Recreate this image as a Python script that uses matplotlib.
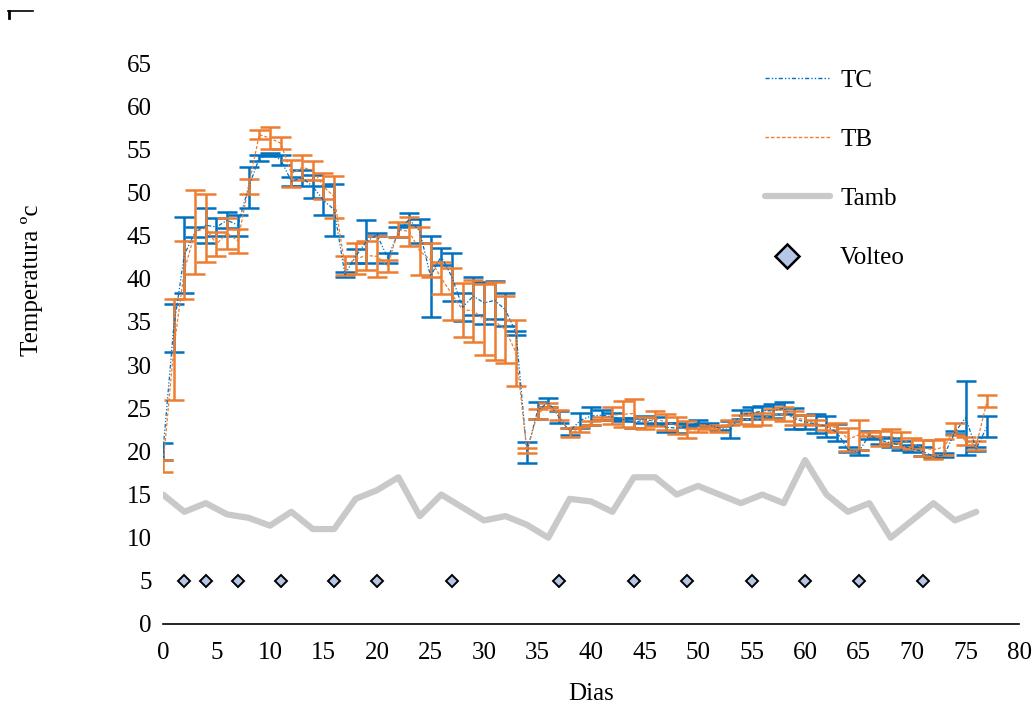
import numpy as np
import matplotlib
matplotlib.use("Agg")
import matplotlib.pyplot as plt
from matplotlib.lines import Line2D
from matplotlib.legend_handler import HandlerLine2D

plt.rcParams['font.family'] = ['Liberation Serif', 'DejaVu Serif']

# daily temperatures (mean and error) for TC and TB
days = list(range(78))
tc = [20.0, 34.3, 42.8, 45.4, 46.2, 46.0, 46.8, 46.2, 50.6, 54.0,
      54.4, 53.8, 51.3, 51.7, 50.7, 49.1, 48.0, 40.5, 42.6, 44.3,
      45.1, 42.4, 45.4, 46.9, 45.5, 40.3, 42.6, 40.2, 36.7, 38.0,
      37.2, 37.5, 36.4, 33.7, 19.9, 24.7, 25.7, 24.0, 22.3, 23.6,
      24.1, 24.2, 24.0, 23.7, 23.3, 23.7, 23.5, 22.8, 22.7, 23.0,
      23.3, 23.1, 22.7, 22.5, 24.3, 24.4, 24.7, 24.7, 25.0, 23.8,
      23.4, 23.2, 22.9, 22.2, 20.2, 19.9, 21.9, 21.3, 21.0, 20.7,
      20.3, 20.0, 19.4, 19.6, 22.2, 23.9, 20.3, 22.9]
tc_err = [1.0, 2.8, 4.4, 0.6, 2.0, 1.1, 0.9, 1.2, 2.4, 0.3,
          0.2, 0.6, 0.5, 0.9, 1.3, 1.7, 3.0, 0.3, 0.8, 2.5,
          0.2, 0.6, 0.6, 0.7, 1.4, 4.7, 1.0, 2.8, 1.6, 2.2,
          2.4, 2.2, 1.9, 0.2, 1.2, 1.0, 0.5, 0.7, 0.4, 0.9,
          1.0, 0.6, 0.4, 0.2, 0.6, 0.4, 0.5, 0.5, 0.6, 0.2,
          0.3, 0.2, 0.2, 1.0, 0.5, 0.7, 0.6, 0.8, 0.7, 1.2,
          0.8, 1.1, 1.2, 1.0, 0.3, 0.3, 0.5, 0.4, 0.5, 0.5,
          0.4, 0.5, 0.2, 0.2, 0.2, 4.3, 0.2, 1.2]
tb = [18.3, 31.8, 41.0, 45.4, 45.9, 44.0, 45.3, 44.4, 50.7, 56.7,
      56.3, 55.7, 52.2, 52.9, 52.6, 50.7, 49.5, 41.5, 42.3, 42.7,
      42.6, 41.5, 45.7, 45.5, 43.2, 42.2, 40.1, 38.2, 36.4, 36.3,
      35.3, 35.1, 34.1, 31.4, 20.1, 24.3, 25.4, 24.2, 22.2, 22.5,
      23.3, 23.8, 24.2, 24.3, 24.4, 23.3, 23.8, 23.4, 23.0, 22.5,
      22.5, 22.8, 22.6, 23.3, 23.7, 23.7, 23.8, 24.3, 24.3, 23.9,
      23.7, 23.3, 22.8, 22.8, 21.4, 21.9, 22.0, 21.5, 21.8, 21.4,
      20.9, 20.4, 20.2, 20.5, 22.6, 21.2, 20.7, 25.8]
tb_err = [0.7, 5.9, 3.4, 4.9, 3.9, 1.4, 1.8, 1.4, 0.9, 0.5,
          1.3, 0.7, 1.6, 1.4, 1.1, 1.5, 2.4, 1.1, 1.8, 1.7,
          2.4, 0.7, 0.9, 1.7, 2.8, 2.0, 1.9, 3.0, 3.1, 3.6,
          4.1, 4.5, 3.9, 3.8, 0.3, 0.6, 0.2, 0.6, 0.5, 0.3,
          0.2, 0.2, 1.0, 1.5, 1.7, 0.7, 0.9, 0.9, 1.0, 1.0,
          0.2, 0.2, 0.3, 0.3, 0.5, 0.8, 0.7, 0.6, 0.8, 0.8,
          0.5, 0.3, 0.3, 0.5, 1.3, 1.7, 0.2, 0.9, 0.8, 0.9,
          0.6, 0.9, 1.1, 0.9, 0.7, 0.5, 0.5, 0.7]

# ambient temperature, every two days
tamb_days = list(range(0, 77, 2))
tamb = [15, 13, 14, 12.7, 12.3, 11.4, 13, 11, 11, 14.5,
        15.5, 17, 12.5, 15, 13.5, 12, 12.5, 11.5, 10, 14.5,
        14.2, 13, 17, 17, 15, 16, 15, 14, 15, 14,
        19, 15, 13, 14, 10, 12, 14, 12, 13]

# turning days
volteo_days = [2, 4, 7, 11, 16, 20, 27, 37, 44, 49, 55, 60, 65, 71]
volteo_y = [5] * len(volteo_days)

c_tc = '#0070C0'
c_tb = '#ED7D31'
c_amb = '#C9C9C9'
fs = 18


class LeftMarker(HandlerLine2D):
    # legend marker sits left of the handle centre, like the original
    def create_artists(self, legend, orig_handle, xdescent, ydescent,
                       width, height, fontsize, trans):
        arts = super().create_artists(legend, orig_handle, xdescent, ydescent,
                                      width, height, fontsize, trans)
        for a in arts:
            a.set_xdata(np.asarray(a.get_xdata()) - 0.16 * width)
        return arts


fig = plt.figure(figsize=(10.34, 7.05), dpi=100)
ax = fig.add_axes([0.1576, 0.1149, 0.828, 0.7957])

ax.plot(tamb_days, tamb, color=c_amb, lw=4.5, solid_joinstyle='round',
        solid_capstyle='round', zorder=1)

ax.errorbar(days, tc, yerr=tc_err, fmt='none', ecolor=c_tc, elinewidth=1.8,
            capsize=7, capthick=1.8, zorder=2)
ax.errorbar(days, tb, yerr=tb_err, fmt='none', ecolor=c_tb, elinewidth=1.8,
            capsize=7, capthick=1.8, zorder=3)
ax.plot(days, tc, color=c_tc, lw=0.9, ls=(0, (3, 1.5, 1, 1.5, 1, 1.5)), zorder=4)
ax.plot(days, tb, color=c_tb, lw=0.9, ls=(0, (2.5, 1.5)), zorder=4)

ax.plot(volteo_days, volteo_y, ls='none', marker='D', ms=6.5,
        mfc='#B4C7E7', mec='black', mew=1.4, zorder=5)

ax.set_xlim(0, 80)
ax.set_ylim(0, 65)
ax.set_xticks(range(0, 81, 5))
ax.set_yticks(range(0, 66, 5))
ax.tick_params(length=0, labelsize=fs)
ax.tick_params(axis='x', pad=13)
ax.tick_params(axis='y', pad=8)
for s in ['top', 'right', 'left']:
    ax.spines[s].set_visible(False)
ax.spines['bottom'].set_linewidth(1.2)

ax.set_xlabel('Dias', fontsize=fs, labelpad=14)
ax.set_ylabel('Temperatura ºc', fontsize=fs)
ax.yaxis.set_label_coords(-0.140, 0.613)

volteo_handle = Line2D([], [], ls='none', marker='D', ms=12, mfc='#B4C7E7',
                       mec='black', mew=1.8)
handles = [
    Line2D([], [], color=c_tc, lw=1.0, ls=(0, (3, 1.5, 1, 1.5, 1, 1.5))),
    Line2D([], [], color=c_tb, lw=1.0, ls=(0, (2.5, 1.5))),
    Line2D([], [], color=c_amb, lw=4.5, solid_capstyle='round'),
    volteo_handle,
]
fig.legend(handles, ['TC', 'TB', 'Tamb', 'Volteo'], loc='upper left',
           bbox_to_anchor=(0.74, 0.902), frameon=False, fontsize=fs,
           handlelength=2.6, labelspacing=1.47, handletextpad=0.4,
           borderpad=0, borderaxespad=0,
           handler_map={volteo_handle: LeftMarker()})

# small marks in the corner of the original image
fig.add_artist(Line2D([8 / 1034, 33 / 1034], [1 - 11 / 705, 1 - 11 / 705],
                      color='black', lw=1.2))
fig.add_artist(Line2D([9 / 1034, 9 / 1034], [1 - 11 / 705, 1 - 18 / 705],
                      color='black', lw=2))

fig.savefig('out.png', dpi=100)
